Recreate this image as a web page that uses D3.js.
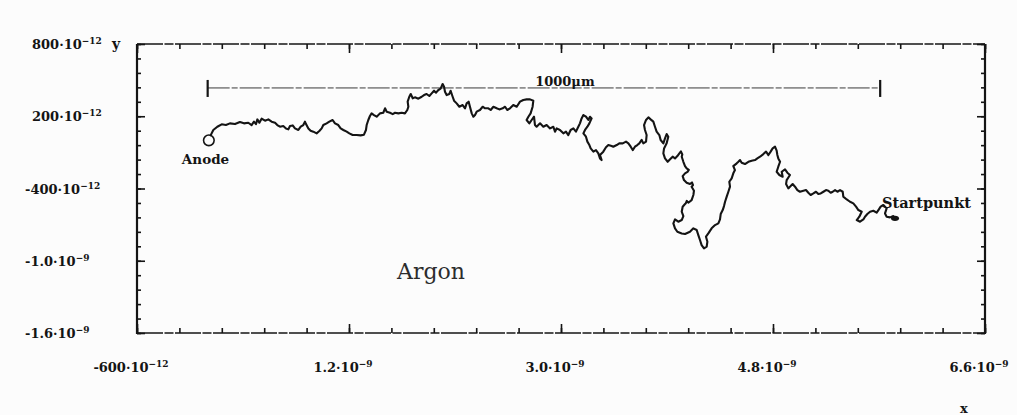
<!DOCTYPE html>
<html>
<head>
<meta charset="utf-8">
<script src="https://cdn.jsdelivr.net/npm/d3@7"></script>
<style>
  html, body { margin: 0; padding: 0; background: #ffffff; }
  svg { display: block; }
</style>
</head>
<body>
<svg id="chart" width="1017" height="415"></svg>
<script>
// Simulated electron path in argon (x, y in units of 1e-9 m), anode at the origin
const trajectory = [
  [0.025,0.041],[0.048,0.086],[0.082,0.113],[0.119,0.133],[0.155,0.127],[0.189,0.141],[0.232,0.135],[0.274,0.152],
  [0.308,0.141],[0.345,0.146],[0.373,0.127],[0.393,0.155],[0.410,0.135],[0.422,0.174],[0.439,0.146],[0.458,0.180],
  [0.487,0.163],[0.515,0.174],[0.543,0.155],[0.572,0.146],[0.591,0.127],[0.614,0.113],[0.642,0.119],[0.665,0.099],
  [0.685,0.091],[0.699,0.119],[0.722,0.124],[0.741,0.099],[0.770,0.086],[0.790,0.113],[0.812,0.127],[0.826,0.155],
  [0.835,0.135],[0.855,0.099],[0.874,0.080],[0.897,0.072],[0.925,0.058],[0.948,0.077],[0.968,0.099],[0.982,0.127],
  [1.010,0.141],[1.033,0.155],[1.061,0.169],[1.081,0.141],[1.109,0.127],[1.129,0.099],[1.152,0.086],[1.180,0.072],
  [1.203,0.058],[1.231,0.044],[1.265,0.044],[1.299,0.041],[1.327,0.047],[1.344,0.086],[1.350,0.127],[1.364,0.169],
  [1.378,0.202],[1.392,0.224],[1.412,0.210],[1.435,0.196],[1.463,0.224],[1.491,0.229],[1.506,0.266],[1.520,0.238],
  [1.548,0.229],[1.571,0.218],[1.591,0.229],[1.619,0.224],[1.647,0.229],[1.675,0.224],[1.695,0.252],[1.704,0.279],
  [1.698,0.321],[1.712,0.362],[1.724,0.385],[1.741,0.349],[1.760,0.357],[1.789,0.346],[1.817,0.362],[1.837,0.376],
  [1.859,0.385],[1.882,0.368],[1.902,0.390],[1.922,0.412],[1.939,0.396],[1.959,0.418],[1.978,0.429],[1.995,0.468],
  [2.007,0.445],[2.015,0.404],[2.029,0.376],[2.052,0.385],[2.063,0.412],[2.080,0.362],[2.092,0.329],[2.114,0.307],
  [2.137,0.279],[2.165,0.293],[2.185,0.266],[2.199,0.307],[2.216,0.321],[2.227,0.279],[2.242,0.224],[2.256,0.196],
  [2.270,0.210],[2.284,0.238],[2.312,0.252],[2.335,0.279],[2.355,0.266],[2.383,0.266],[2.403,0.252],[2.426,0.279],
  [2.454,0.266],[2.476,0.257],[2.505,0.266],[2.525,0.279],[2.544,0.252],[2.567,0.266],[2.595,0.293],[2.624,0.279],
  [2.652,0.321],[2.680,0.335],[2.708,0.340],[2.737,0.340],[2.765,0.329],[2.759,0.279],[2.742,0.224],[2.723,0.196],
  [2.708,0.169],[2.731,0.141],[2.751,0.169],[2.771,0.196],[2.779,0.127],[2.793,0.113],[2.822,0.141],[2.850,0.113],
  [2.878,0.127],[2.907,0.099],[2.935,0.113],[2.949,0.072],[2.963,0.099],[2.991,0.086],[3.020,0.058],[3.042,0.072],
  [3.062,0.044],[3.082,0.086],[3.105,0.099],[3.127,0.072],[3.147,0.113],[3.161,0.141],[3.175,0.182],[3.190,0.210],
  [3.212,0.196],[3.232,0.169],[3.246,0.196],[3.260,0.182],[3.241,0.141],[3.224,0.113],[3.204,0.086],[3.190,0.058],
  [3.212,0.030],[3.224,-0.011],[3.241,-0.039],[3.252,-0.067],[3.275,-0.094],[3.297,-0.081],[3.317,-0.108],[3.331,-0.150],
  [3.345,-0.164],[3.331,-0.122],[3.359,-0.094],[3.382,-0.058],[3.402,-0.039],[3.430,-0.047],[3.444,-0.053],[3.473,-0.039],
  [3.495,-0.025],[3.524,-0.025],[3.552,-0.011],[3.572,-0.025],[3.592,-0.053],[3.609,-0.081],[3.628,-0.053],[3.648,-0.039],
  [3.665,-0.025],[3.685,0.003],[3.699,-0.025],[3.722,-0.011],[3.727,0.044],[3.713,0.086],[3.705,0.127],[3.722,0.169],
  [3.742,0.191],[3.761,0.174],[3.784,0.155],[3.798,0.113],[3.812,0.072],[3.835,0.044],[3.846,0.003],[3.869,-0.025],
  [3.883,0.016],[3.897,0.052],[3.911,0.030],[3.897,-0.025],[3.875,-0.067],[3.869,-0.108],[3.883,-0.150],[3.906,-0.178],
  [3.926,-0.158],[3.948,-0.136],[3.968,-0.150],[3.988,-0.131],[4.005,-0.108],[4.018,-0.092],[4.030,-0.118],[4.025,-0.136],
  [4.039,-0.178],[4.053,-0.214],[4.067,-0.233],[4.085,-0.246],[4.074,-0.262],[4.053,-0.274],[4.033,-0.297],[4.044,-0.330],
  [4.067,-0.352],[4.095,-0.363],[4.112,-0.350],[4.121,-0.372],[4.109,-0.385],[4.129,-0.418],[4.124,-0.454],[4.109,-0.496],
  [4.081,-0.518],[4.068,-0.502],[4.060,-0.522],[4.053,-0.529],[4.033,-0.551],[4.025,-0.593],[4.039,-0.629],[4.025,-0.662],
  [3.996,-0.676],[3.968,-0.657],[3.954,-0.690],[3.968,-0.731],[3.988,-0.759],[4.025,-0.773],[4.053,-0.778],[4.095,-0.759],
  [4.124,-0.731],[4.152,-0.745],[4.166,-0.787],[4.180,-0.828],[4.194,-0.870],[4.214,-0.897],[4.237,-0.883],[4.243,-0.842],
  [4.231,-0.800],[4.251,-0.773],[4.279,-0.731],[4.308,-0.704],[4.336,-0.690],[4.350,-0.657],[4.356,-0.612],[4.373,-0.579],
  [4.384,-0.546],[4.393,-0.510],[4.407,-0.468],[4.421,-0.427],[4.435,-0.385],[4.429,-0.344],[4.449,-0.316],[4.463,-0.274],
  [4.477,-0.247],[4.463,-0.214],[4.492,-0.191],[4.506,-0.178],[4.520,-0.164],[4.534,-0.186],[4.562,-0.197],[4.591,-0.178],
  [4.619,-0.169],[4.647,-0.164],[4.667,-0.150],[4.690,-0.136],[4.718,-0.114],[4.741,-0.094],[4.761,-0.122],[4.780,-0.094],
  [4.797,-0.067],[4.817,-0.053],[4.831,-0.086],[4.837,-0.122],[4.845,-0.150],[4.860,-0.178],[4.845,-0.219],[4.831,-0.261],
  [4.854,-0.288],[4.882,-0.302],[4.874,-0.261],[4.902,-0.241],[4.922,-0.269],[4.944,-0.288],[4.916,-0.330],[4.911,-0.363],
  [4.930,-0.399],[4.950,-0.380],[4.967,-0.363],[4.987,-0.385],[5.007,-0.413],[5.029,-0.427],[5.058,-0.418],[5.080,-0.413],
  [5.100,-0.435],[5.120,-0.454],[5.143,-0.441],[5.165,-0.427],[5.185,-0.446],[5.205,-0.441],[5.228,-0.427],[5.250,-0.413],
  [5.270,-0.418],[5.290,-0.435],[5.307,-0.427],[5.327,-0.413],[5.347,-0.427],[5.369,-0.413],[5.392,-0.427],[5.397,-0.468],
  [5.426,-0.491],[5.454,-0.510],[5.482,-0.524],[5.505,-0.551],[5.525,-0.579],[5.553,-0.593],[5.533,-0.634],[5.511,-0.662],
  [5.539,-0.676],[5.567,-0.657],[5.581,-0.634],[5.601,-0.612],[5.624,-0.593],[5.652,-0.585],[5.680,-0.601],[5.695,-0.579],
  [5.714,-0.551],[5.737,-0.537],[5.765,-0.565],[5.751,-0.607],[5.765,-0.634],[5.794,-0.640],[5.822,-0.629],[5.836,-0.648]
];

const anode = [0.01, 0.0];

// Axis ranges, ticks and labels (units of 1e-9)
const xDomain = [-0.6, 6.6];
const yDomain = [-1.6, 0.8];
const xMajorTicks = [-0.6, 1.2, 3.0, 4.8, 6.6];
const yMajorTicks = [0.8, 0.2, -0.4, -1.0, -1.6];
const xTickBase = ["-600\u00b710", "1.2\u00b710", "3.0\u00b710", "4.8\u00b710", "6.6\u00b710"];
const xTickExp  = ["\u221212", "\u22129", "\u22129", "\u22129", "\u22129"];
const yTickBase = ["800\u00b710", "200\u00b710", "-400\u00b710", "-1.0\u00b710", "-1.6\u00b710"];
const yTickExp  = ["\u221212", "\u221212", "\u221212", "\u22129", "\u22129"];
const minorStepX = 0.36;
const minorStepY = 0.12;

// Scale bar: 1000 μm reference length
const scaleBarX = [0.0, 5.71];
const scaleBarY = 0.435;
const scaleBarLabel = "1000\u03bcm";

const W = 1017, H = 415;
const frame = { left: 137, right: 985, top: 44, bottom: 333 };
const ink = "#141414";
const labelFont = "'DejaVu Serif', serif";

const svg = d3.select("#chart");
svg.append("rect").attr("width", W).attr("height", H).attr("fill", "#fcfcfc");

const x = d3.scaleLinear().domain(xDomain).range([frame.left, frame.right]);
const y = d3.scaleLinear().domain(yDomain).range([frame.bottom, frame.top]);

const xMinor = d3.range(0, 21).map(i => xDomain[0] + i * minorStepX);
const yMinor = d3.range(0, 21).map(i => yDomain[0] + i * minorStepY);

// Inward-pointing ticks on all four sides
function tickAxis(axisFn, scale, values, size, transform) {
  const g = svg.append("g")
    .attr("transform", transform)
    .call(axisFn(scale).tickValues(values).tickSize(size).tickFormat(""));
  g.select(".domain").remove();
  g.selectAll(".tick line").attr("stroke", ink).attr("stroke-width", 1.6);
  return g;
}
tickAxis(d3.axisTop, x, xMinor, 5, `translate(0,${frame.bottom})`);
tickAxis(d3.axisTop, x, xMajorTicks, 9, `translate(0,${frame.bottom})`);
tickAxis(d3.axisBottom, x, xMinor, 5, `translate(0,${frame.top})`);
tickAxis(d3.axisBottom, x, xMajorTicks, 9, `translate(0,${frame.top})`);
tickAxis(d3.axisRight, y, yMinor, 4, `translate(${frame.left},0)`);
tickAxis(d3.axisRight, y, yMajorTicks, 8, `translate(${frame.left},0)`);
tickAxis(d3.axisLeft, y, yMinor, 4, `translate(${frame.right},0)`);
tickAxis(d3.axisLeft, y, yMajorTicks, 8, `translate(${frame.right},0)`);

// Frame: heavy verticals, lighter horizontals
svg.append("line").attr("x1", frame.left).attr("x2", frame.left)
  .attr("y1", frame.top).attr("y2", frame.bottom + 1)
  .attr("stroke", ink).attr("stroke-width", 2.2);
svg.append("line").attr("x1", frame.right).attr("x2", frame.right)
  .attr("y1", frame.top).attr("y2", frame.bottom + 1)
  .attr("stroke", ink).attr("stroke-width", 2.2);
[frame.top, frame.bottom].forEach(yy => {
  svg.append("line").attr("x1", frame.left).attr("x2", frame.right)
    .attr("y1", yy).attr("y2", yy)
    .attr("stroke", ink).attr("stroke-width", 1.4)
    .attr("stroke-dasharray", "26,1.5,9,1.5");
});

// Tick labels with superscript exponents
function tickLabel(px, py, base, exp, anchor) {
  const t = svg.append("text")
    .attr("x", px).attr("y", py)
    .attr("text-anchor", anchor)
    .attr("font-family", labelFont)
    .attr("font-weight", "bold")
    .attr("font-size", 13)
    .attr("fill", ink);
  t.append("tspan").text(base);
  t.append("tspan").attr("dy", -5).attr("font-size", 9).text(exp);
  return t;
}
xMajorTicks.forEach((v, i) => {
  tickLabel(x(v) - 6, 372, xTickBase[i], xTickExp[i], "middle");
});
yMajorTicks.forEach((v, i) => {
  tickLabel(v < 0 ? 25 : 32, y(v) + 5, yTickBase[i], yTickExp[i], "start");
});

// Axis letters
svg.append("text").attr("x", 112).attr("y", 49)
  .attr("font-family", labelFont).attr("font-weight", "bold").attr("font-size", 14)
  .attr("fill", ink).text("y");
svg.append("text").attr("x", 960).attr("y", 413)
  .attr("font-family", labelFont).attr("font-weight", "bold").attr("font-size", 13)
  .attr("fill", ink).text("x");

// Scale bar
const sbY = y(scaleBarY);
svg.append("line")
  .attr("x1", x(scaleBarX[0])).attr("x2", x(scaleBarX[1]))
  .attr("y1", sbY).attr("y2", sbY)
  .attr("stroke", "#3a3a3a").attr("stroke-width", 1)
  .attr("stroke-dasharray", "22,2,6,2");
scaleBarX.forEach(v => {
  svg.append("line").attr("x1", x(v)).attr("x2", x(v))
    .attr("y1", sbY - 8).attr("y2", sbY + 9)
    .attr("stroke", ink).attr("stroke-width", 2.2);
});
svg.append("text")
  .attr("x", x(2.855) + 21).attr("y", sbY - 1.5)
  .attr("text-anchor", "middle")
  .attr("font-family", labelFont).attr("font-weight", "bold").attr("font-size", 13)
  .attr("fill", ink).text(scaleBarLabel);

// Electron trajectory
const line = d3.line().x(d => x(d[0])).y(d => y(d[1])).curve(d3.curveLinear);
svg.append("path")
  .datum(trajectory)
  .attr("d", line)
  .attr("fill", "none")
  .attr("stroke", ink)
  .attr("stroke-width", 2.1)
  .attr("stroke-linejoin", "round")
  .attr("stroke-linecap", "round");

// Anode marker and start point
svg.append("circle")
  .attr("cx", x(anode[0])).attr("cy", y(anode[1])).attr("r", 5.3)
  .attr("fill", "none").attr("stroke", ink).attr("stroke-width", 1.6);
const startPt = trajectory[trajectory.length - 1];
svg.append("ellipse")
  .attr("cx", x(startPt[0])).attr("cy", y(startPt[1])).attr("rx", 4).attr("ry", 2.6)
  .attr("fill", ink);

svg.append("text")
  .attr("x", x(anode[0]) - 27).attr("y", y(anode[1]) + 24)
  .attr("font-family", labelFont).attr("font-weight", "bold").attr("font-size", 13.5)
  .attr("fill", ink).text("Anode");
svg.append("text")
  .attr("x", x(startPt[0]) - 13).attr("y", y(startPt[1]) - 10.5)
  .attr("font-family", labelFont).attr("font-weight", "bold").attr("font-size", 14.5)
  .attr("fill", ink).text("Startpunkt");

// Gas label
svg.append("text")
  .attr("x", 397).attr("y", 279)
  .attr("font-family", labelFont).attr("font-size", 22)
  .attr("fill", "#2c2c2c").text("Argon");
</script>
</body>
</html>
